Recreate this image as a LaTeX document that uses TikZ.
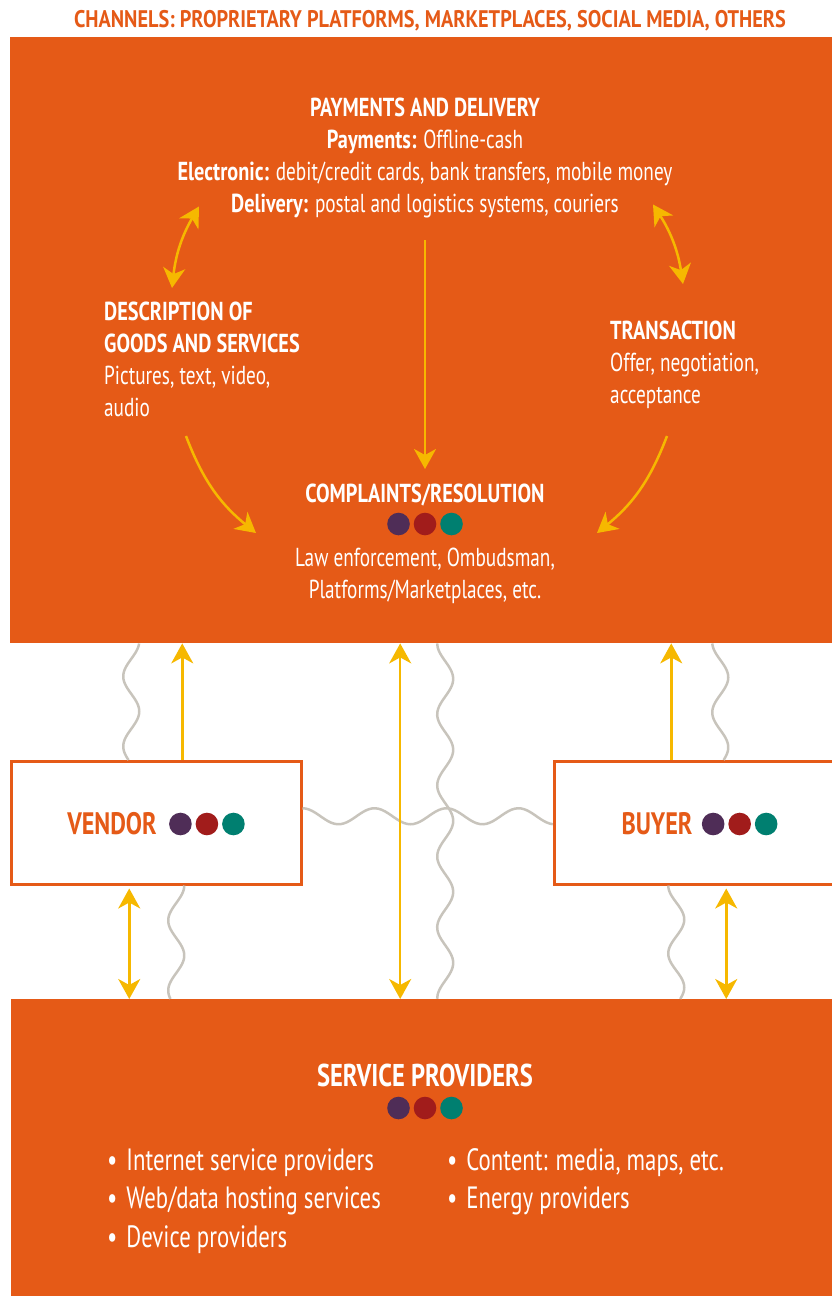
\documentclass[tikz,border=0pt]{standalone}
\usepackage{fontspec}
\setmainfont{PT Sans}[UprightFeatures={FakeStretch=0.74},BoldFeatures={FakeStretch=0.78}]
\newfontfamily\titulo{PT Sans}[FakeStretch=0.845]
\usepackage{xcolor}
\usetikzlibrary{positioning,calc,arrows.meta}
\definecolor{laranja}{HTML}{E55A17}
\definecolor{amarelo}{HTML}{F6B800}
\definecolor{cinza}{HTML}{C8C4BC}
\definecolor{roxo}{HTML}{4F2D57}
\definecolor{vermelho}{HTML}{A11C1B}
\definecolor{verde}{HTML}{007F70}
\newcommand{\trio}[1]{\path #1 coordinate (trio-c);
  \foreach \c [count=\i from -1] in {roxo,vermelho,verde} {\fill[\c] ($(trio-c)+(\i*26.5,0)$) circle (11.3pt);}}

\begin{document}
\begin{tikzpicture}[x=1pt,y=-1pt,
      B/.style={fill=laranja,inner sep=0pt,anchor=north west},
      W/.style={draw=laranja,line width=2.5pt,fill=white,inner sep=0pt,anchor=north west,
        minimum width=290pt,minimum height=123pt},
      T/.style={text=white,inner sep=0pt,font=\fontsize{26}{32}\selectfont},
      L/.style={text=laranja,inner sep=0pt,font=\bfseries\fontsize{31}{36}\selectfont},
      ya/.style={draw=amarelo,line width=2.5pt},
      % onda vertical / horizontal: {fase}{comprimento de onda}
      vw/.style n args={2}{draw=cinza,line width=2.5pt,
        to path={let \p1=(\tikztostart),\p2=(\tikztotarget),\n1={(\y2)-(\y1)},\n2={abs(\n1)/#2} in
          plot[domain=0:1,samples=80,smooth,variable=\t] ({\x1+8pt*sin(\t*\n2*360+#1)},{\y1+\n1*\t})}},
      hw/.style n args={2}{draw=cinza,line width=2.5pt,
        to path={let \p1=(\tikztostart),\p2=(\tikztotarget),\n1={(\x2)-(\x1)},\n2={abs(\n1)/#2} in
          plot[domain=0:1,samples=80,smooth,variable=\t] ({\x1+\n1*\t},{\y1+8pt*sin(\t*\n2*360+#1)})}},
      >={Stealth[length=20pt,width=22pt,inset=6pt]},
    ]
  \useasboundingbox (0,0) rectangle (832,1296);
  \node[text=laranja,inner sep=0pt,font=\titulo\bfseries\fontsize{24}{28}\selectfont] (canais) at (430,21)
    {CHANNELS: PROPRIETARY PLATFORMS, MARKETPLACES, SOCIAL MEDIA, OTHERS};
  \node[B,minimum width=822pt,minimum height=606pt] (main) at (10,37) {};
  \node[B,minimum width=821pt,minimum height=300pt] (prov) at (11,999) {};
  \node[W] (vendor) at (10,760) {};
  \node[W] (buyer) at (553,760) {};

  % conteudo do quadro principal
  \node[T,align=center,anchor=north] (pay) at (425,98)
    {\textbf{PAYMENTS AND DELIVERY}\\ \textbf{Payments:} Offline-cash\\
     \textbf{Electronic:} debit/credit cards, bank transfers, mobile money\\
     \textbf{Delivery:} postal and logistics systems, couriers};
  \node[T,align=left,anchor=north west] (desc) at (104,302)
    {\textbf{DESCRIPTION OF}\\ \textbf{GOODS AND SERVICES}\\ Pictures, text, video,\\ audio};
  \node[T,align=left,anchor=north west] (trans) at (610,321)
    {\textbf{TRANSACTION}\\ Offer, negotiation,\\ acceptance};
  \node[T,align=center,anchor=north] (compl) at (425,484)
    {\textbf{COMPLAINTS/RESOLUTION}\\[32pt] Law enforcement, Ombudsman,\\ Platforms/Marketplaces, etc.};
  \trio{($(compl.north)+(0,40)$)}

  \draw[ya,<->,bend left=12] ([shift={(68,-14)}]desc.north west) to ([shift={(-226,-12)}]pay.south);
  \draw[ya,<->,bend left=12] ([shift={(228,-14)}]pay.south) to ([shift={(73,-37)}]trans.north west);
  \draw[ya,->] ([yshift=-22pt]pay.south) -- ([yshift=15pt]compl.north);
  \draw[ya,->,bend right=15] ([shift={(82,134)}]desc.north west) to ([shift={(-169,49)}]compl.north);
  \draw[ya,->,bend left=15] ([shift={(57,115)}]trans.north west) to ([shift={(172,49)}]compl.north);

  % ondas entre os quadros
  \draw[hw={90}{72}] ([yshift=6.5pt]vendor.east) to ([yshift=6.5pt]buyer.west);
  \draw[vw={200}{70}] ([xshift=-25pt]vendor.north) to ([xshift=-25pt]vendor.north |- main.south);
  \draw[vw={90}{70}] ([xshift=20pt]vendor.south) to ([xshift=20pt]vendor.south |- prov.north);
  \draw[vw={270}{71}] ([xshift=24pt]main.south) to ([xshift=24pt]main.south |- prov.north);
  \draw[vw={25}{70}] ([xshift=21pt]buyer.north) to ([xshift=21pt]buyer.north |- main.south);
  \draw[vw={270}{68}] ([xshift=-23pt]buyer.south) to ([xshift=-23pt]buyer.south |- prov.north);

  \node[L] (vlbl) at (112,824) {VENDOR};
  \trio{($(vlbl.east)+(50,0)$)}
  \node[L] (blbl) at (657,824) {BUYER};
  \trio{($(blbl.east)+(47,0)$)}

  \draw[ya,->] ([xshift=26pt]vendor.north) -- ([xshift=26pt]vendor.north |- main.south);
  \draw[ya,<->] ([shift={(-27,3)}]vendor.south) -- ([xshift=-27pt]vendor.south |- prov.north);
  \draw[ya,<->] ([xshift=-21pt]main.south) -- ([xshift=-21pt]main.south |- prov.north);
  \draw[ya,->] ([xshift=-28pt]buyer.north) -- ([xshift=-28pt]buyer.north |- main.south);
  \draw[ya,<->] ([shift={(27,3)}]buyer.south) -- ([xshift=27pt]buyer.south |- prov.north);

  % fornecedores de servicos
  \node[text=white,inner sep=0pt,font=\bfseries\fontsize{31.5}{36}\selectfont] (provt) at (425,1075)
    {SERVICE PROVIDERS};
  \trio{($(provt.center)+(0,33)$)}
  \node[T,font=\fontsize{30.8}{38.5}\selectfont,align=left,anchor=north west] (lista1) at (107,1148)
    {\textbullet\hspace{9pt}Internet service providers\\ \textbullet\hspace{9pt}Web/data hosting services\\
     \textbullet\hspace{9pt}Device providers};
  \node[T,font=\fontsize{30.8}{38.5}\selectfont,align=left,anchor=north west] (lista2) at (447,1148)
    {\textbullet\hspace{9pt}Content: media, maps, etc.\\ \textbullet\hspace{9pt}Energy providers};
\end{tikzpicture}
\end{document}
